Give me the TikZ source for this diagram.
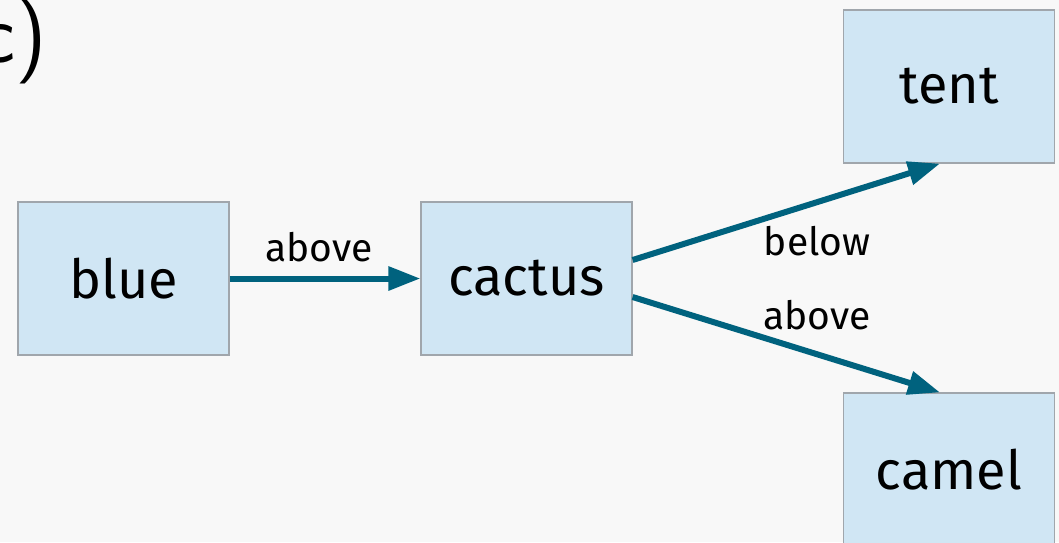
\documentclass[tikz,border=0pt]{standalone}
\usepackage{fontspec}
\setmainfont{Fira Sans}
\usetikzlibrary{arrows.meta}
\definecolor{boxfill}{HTML}{D0E6F4}
\definecolor{boxline}{HTML}{A0A6AC}
\definecolor{arrowteal}{HTML}{00627E}
\definecolor{paper}{HTML}{F8F8F8}

\begin{document}
\begin{tikzpicture}[x=0.5pt, y=-0.5pt,
  word/.style={draw=boxline, fill=boxfill, line width=0.6pt, minimum width=105.5pt, minimum height=76.5pt, inner sep=0pt, font=\fontsize{27}{30}\selectfont},
  link/.style={draw=arrowteal, line width=3pt, -{Triangle[length=16pt, width=11.5pt]}},
  tag/.style={font=\fontsize{19.5}{22}\selectfont, inner sep=0pt}]
\fill[paper] (0,0) rectangle (1059,542);
\useasboundingbox (0,0) rectangle (1059,542);
\node[anchor=base east, inner sep=0pt, font=\sffamily\fontsize{43}{46}\selectfont] (title) at (47,62) {c)};
\node[word] (blue) at (123.5,278.5) {blue};
\node[word] (cactus) at (526.5,278.5) {cactus};
\node[word] (tent) at (949,86.5) {tent};
\node[word] (camel) at (949,469.5) {camel};
\draw[link] (blue) -- (cactus) node[tag, midway, above=7pt, xshift=-3pt] {above};
\draw[link] ([yshift=9.25pt]cactus.east) -- ([xshift=-4.5pt]tent.south) node[tag, pos=0.6, below=10.5pt] {below};
\draw[link] ([yshift=-9.25pt]cactus.east) -- ([xshift=-4.5pt]camel.north) node[tag, pos=0.6, above=10.5pt] {above};
\end{tikzpicture}
\end{document}
